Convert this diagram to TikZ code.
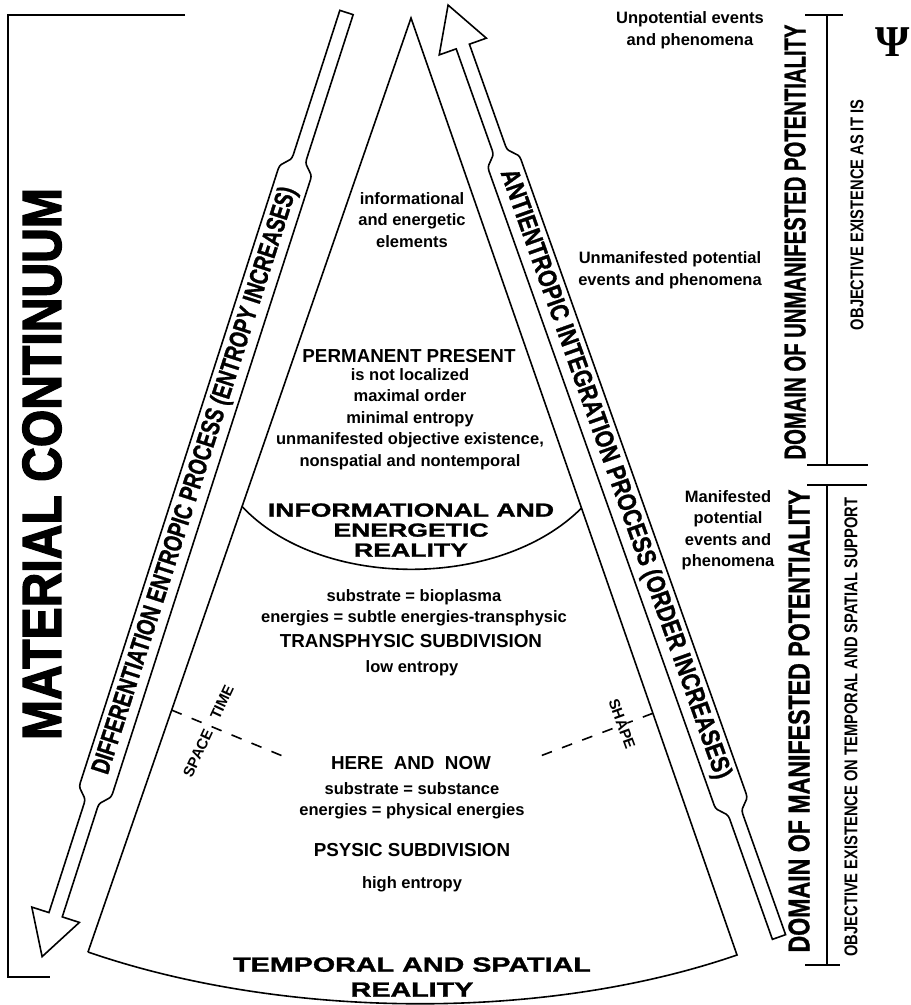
\documentclass[tikz,border=0pt]{standalone}
\usepackage{fontspec}
\usepackage{graphicx}
\setmainfont{Liberation Sans}
\newfontfamily\psifont{Liberation Serif}
\newfontfamily\heavyfont{Liberation Sans}[BoldFeatures={FakeBold=2.5}]
\newfontfamily\semiheavyfont{Liberation Sans}[BoldFeatures={FakeBold=1.2}]
\usetikzlibrary{calc}

\newcommand{\wide}[1]{\scalebox{1.4}[1]{#1}}
\newcommand{\squeeze}[2]{\resizebox{#1}{\height}{#2}}

\begin{document}
\begin{tikzpicture}[x=1pt,y=-1pt,line width=1.6pt,
	txt/.style={font=\fontsize{16.5}{21.5}\selectfont\bfseries,align=center,inner sep=0pt},
	caps/.style={font=\fontsize{18.8}{22}\selectfont\bfseries,inner sep=0pt},
	widecaps/.style={font=\semiheavyfont\fontsize{19}{20}\selectfont\bfseries,align=center,inner sep=0pt},
	arrowtext/.style={font=\semiheavyfont\fontsize{26}{26}\selectfont\bfseries,inner sep=0pt},
	domaintext/.style={font=\semiheavyfont\fontsize{30}{30}\selectfont\bfseries,inner sep=0pt,rotate=90},
	objtext/.style={font=\fontsize{18.5}{18.5}\selectfont\bfseries,inner sep=0pt,rotate=90},
	marker/.style={font=\fontsize{15}{15}\selectfont\bfseries,inner sep=0pt},
	dashline/.style={dash pattern=on 10.8pt off 10.8pt}]
	
	\useasboundingbox (0,0) rectangle (911,1005);
	
	\coordinate (apex) at (411,18);
	\coordinate (bl) at (88,952);
	\coordinate (br) at (737,955);
	\coordinate (il) at ($(apex)!0.523!(bl)$);
	\coordinate (ir) at ($(apex)!0.523!(br)$);
	\coordinate (sl) at ($(apex)!0.741!(bl)$);
	\coordinate (sr) at ($(apex)!0.742!(br)$);
	\coordinate (sle) at (285,757);
	\coordinate (sre) at (535,758);
	
	\draw (bl) -- (apex) -- (br) .. controls (543,1022) and (282,1019) .. (bl);
	\draw (il) .. controls (320,590) and (500,590) .. (ir);
	
	\draw (185,15) -- (8,15) -- (8,977) -- (50,977);
	
	\draw (805,15) -- (843,15);
	\draw (827,15) -- (827,465);
	\draw (807,465) -- (868,465);
	\draw (807,485) -- (867,485);
	\draw (827,485) -- (827,965);
	\draw (805,965) -- (840,965);
	
	\begin{scope}[shift={(346.5,12.5)},rotate=252.13]
		\draw (0,-7) -- (152,-7) .. controls (161,-7) and (161,-17) .. (170,-17) -- (815,-17) .. controls (824,-17) and (824,-7) .. (833,-7) -- (948,-7) -- (948,-25) -- (992,0) -- (948,25) -- (948,7) -- (833,7) .. controls (824,7) and (824,17) .. (815,17) -- (170,17) .. controls (161,17) and (161,7) .. (152,7) -- (0,7) -- cycle;
		\node[arrowtext,rotate=72.13] (dep) at (492,0) {\squeeze{615pt}{DIFFERENTIATION ENTROPIC PROCESS (ENTROPY INCREASES)}};
	\end{scope}
	
	\begin{scope}[shift={(779,937)},rotate=109.55]
		\draw (0,-7) -- (128,-7) .. controls (137,-7) and (137,-17) .. (146,-17) -- (819,-17) .. controls (828,-17) and (828,-7) .. (837,-7) -- (945,-7) -- (945,-25) -- (989,0) -- (945,25) -- (945,7) -- (837,7) .. controls (828,7) and (828,17) .. (819,17) -- (146,17) .. controls (137,17) and (137,7) .. (128,7) -- (0,7) -- cycle;
		\node[arrowtext,rotate=-70.45] (aip) at (491,0) {\squeeze{645pt}{ANTIENTROPIC INTEGRATION PROCESS (ORDER INCREASES)}};
	\end{scope}
	
	\draw[dashline] (sl) -- (sle);
	\draw[dashline] (sr) -- (sre);
	
	\node[marker,rotate=65] (space) at (198,753) {SPACE};
	
	\node[marker,rotate=65] (time) at (222,702) {TIME};
	
	\node[marker,rotate=-70,fill=white] (shape) at (622,724) {SHAPE};
	
	\node[font=\heavyfont\fontsize{55}{55}\selectfont\bfseries,inner sep=0pt,rotate=90] (mc) at (42,464) {\squeeze{552pt}{MATERIAL CONTINUUM}};
	
	\node[txt] (elem) at (412,220) {informational\\and energetic\\elements};
	
	\node[caps] (perm) at (409,356) {PERMANENT PRESENT};
	
	\node[txt] (permtxt) at (410,419) {is not localized\\maximal order\\minimal entropy\\unmanifested objective existence,\\nonspatial and nontemporal};
	
	\node[widecaps] (ier) at (411,530) {\wide{INFORMATIONAL AND}\\\wide{ENERGETIC}\\\wide{REALITY}};
	
	\node[txt] (bio) at (414,608) {substrate = bioplasma\\energies = subtle energies-transphysic};
	
	\node[caps] (trans) at (411,641) {TRANSPHYSIC SUBDIVISION};
	
	\node[txt] (low) at (412,668) {low entropy};
	
	\node[caps] (here) at (411,763) {HERE\ \ AND\ \ NOW};
	
	\node[txt] (subst) at (412,801) {substrate = substance\\energies = physical energies};
	
	\node[caps] (psy) at (412,850) {PSYSIC SUBDIVISION};
	
	\node[txt] (high) at (412,884) {high entropy};
	
	\node[widecaps,font=\semiheavyfont\fontsize{20.5}{25}\selectfont\bfseries] (tsr) at (412,977) {\wide{TEMPORAL AND SPATIAL}\\\wide{REALITY}};
	
	\node[txt] (unpot) at (690,30) {Unpotential events\\and phenomena};
	
	\node[txt] (unman) at (670,270) {Unmanifested potential\\events and phenomena};
	
	\node[txt] (man) at (728,530) {Manifested\\potential\\events and\\phenomena};
	
	\node[domaintext] (dum) at (795,242) {\squeeze{435pt}{DOMAIN OF UNMANIFESTED POTENTIALITY}};
	
	\node[domaintext] (dm) at (799,721) {\squeeze{463pt}{DOMAIN OF MANIFESTED POTENTIALITY}};
	
	\node[objtext] (oas) at (857,215) {\squeeze{230pt}{OBJECTIVE EXISTENCE AS IT IS}};
	
	\node[objtext] (oon) at (851,727) {\squeeze{459pt}{OBJECTIVE EXISTENCE ON TEMPORAL AND SPATIAL SUPPORT}};
	
	\node[inner sep=0pt] (psi) at (893,42) {\psifont\bfseries\fontsize{44}{44}\selectfont Ψ};
	
\end{tikzpicture}
\end{document}
